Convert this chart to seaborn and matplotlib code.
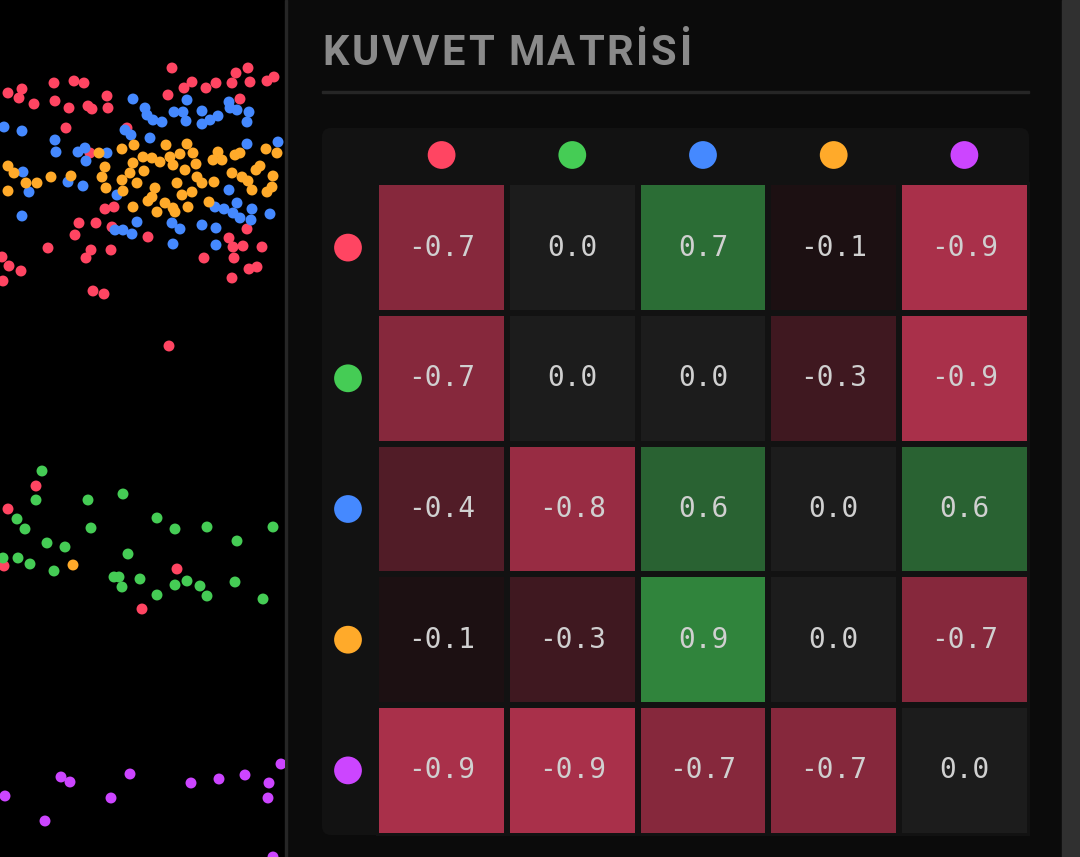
import numpy as np
import pandas as pd
import matplotlib
matplotlib.use("Agg")
import matplotlib.pyplot as plt
from matplotlib.colors import LinearSegmentedColormap
from matplotlib.patches import FancyBboxPatch, Rectangle
import seaborn as sns

sns.set_style("dark")
plt.rcParams['font.family'] = ['Roboto', 'DejaVu Sans']

W, H = 1080, 857

# particle colours (same order as the matrix rows / columns)
groups = ['red', 'green', 'blue', 'orange', 'purple']
group_colors = ['#ff4562', '#45cc55', '#4589ff', '#ffaa2a', '#cc45ff']

# force matrix values (row acts on column)
forces = [
    [-0.7, 0.0, 0.7, -0.1, -0.9],
    [-0.7, 0.0, 0.0, -0.3, -0.9],
    [-0.4, -0.8, 0.6, 0.0, 0.6],
    [-0.1, -0.3, 0.9, 0.0, -0.7],
    [-0.9, -0.9, -0.7, -0.7, 0.0],
]

# particle positions (pixels, y down)
red_x = [172, 248, 236, 274, 267, 192, 184, 206, 216, 232, 250, 240, 168, 8, 22, 19, 34, 54, 74, 84,
         55, 69, 88, 92, 107, 108, 66, 127, 90, 105, 114, 79, 96, 75, 112, 148, 48, 91, 86, 111,
         2, 9, 21, 3, 93, 104, 169, 204, 232, 229, 233, 234, 243, 247, 262, 249, 257,
         36, 8, 4, 177, 142]
red_y = [68, 68, 73, 77, 81, 82, 88, 88, 83, 83, 82, 99, 95, 93, 89, 98, 104, 83, 81, 83,
         101, 108, 106, 109, 96, 108, 128, 128, 153, 209, 207, 223, 223, 235, 227, 237, 248, 250, 258, 250,
         257, 266, 271, 281, 291, 294, 346, 258, 278, 238, 247, 258, 246, 229, 247, 269, 267,
         486, 509, 566, 569, 609]
green_x = [42, 36, 88, 123, 17, 25, 91, 157, 175, 207, 273, 237, 47, 65, 128, 3, 18, 30, 54,
           114, 119, 122, 140, 157, 175, 187, 200, 207, 235, 263]
green_y = [471, 500, 500, 494, 519, 529, 528, 518, 529, 527, 527, 541, 543, 547, 554, 558, 558, 564, 571,
           577, 577, 587, 579, 595, 585, 581, 586, 596, 582, 599]
blue_x = [133, 187, 229, 145, 147, 153, 162, 174, 183, 186, 202, 202, 210, 218, 230, 237, 249, 247,
          4, 22, 55, 56, 78, 85, 86, 107, 125, 131, 150, 247, 278, 23, 29, 68, 83, 117, 22,
          229, 215, 224, 237, 233, 240, 252, 251, 270, 137, 115, 123, 132, 172, 180, 202, 216, 173, 216]
blue_y = [99, 100, 102, 108, 115, 120, 122, 112, 112, 121, 111, 124, 120, 116, 108, 110, 112, 122,
          127, 131, 140, 152, 152, 148, 161, 153, 130, 135, 138, 144, 142, 172, 192, 182, 186, 195, 216,
          190, 207, 209, 203, 213, 218, 209, 220, 214, 222, 230, 230, 234, 223, 229, 225, 228, 244, 245]
orange_x = [8, 14, 26, 37, 8, 51, 71, 99, 122, 134, 105, 102, 106, 122, 123, 130, 137, 133, 133, 143,
            144, 152, 160, 166, 170, 173, 180, 187, 185, 193, 196, 177, 155, 152, 148, 157, 165, 173,
            175, 182, 192, 188, 197, 202, 214, 209, 213, 218, 222, 235, 240, 232, 242, 248, 252, 256,
            260, 267, 272, 273, 266, 277, 73]
orange_y = [166, 173, 183, 183, 191, 177, 176, 153, 149, 145, 167, 177, 188, 180, 191, 173, 183, 207, 163, 157,
            171, 158, 162, 145, 157, 165, 154, 144, 170, 153, 164, 183, 188, 197, 201, 212, 203, 208,
            212, 195, 192, 207, 177, 183, 182, 202, 160, 152, 160, 155, 153, 173, 177, 181, 190, 170,
            166, 192, 187, 176, 149, 153, 565]
purple_x = [281, 61, 70, 130, 191, 219, 245, 269, 268, 5, 111, 45, 273]
purple_y = [764, 777, 782, 774, 783, 779, 775, 783, 798, 796, 798, 821, 857]

fig = plt.figure(figsize=(W / 100, H / 100), dpi=100)
fig.patch.set_facecolor('#0b0b0b')


def px(x0, y0, w, h):
    # pixel box (top-left origin) -> figure fraction rect
    return [x0 / W, 1 - (y0 + h) / H, w / W, h / H]


# background pieces: black sim panel, divider, right scrollbar strip
fig.add_artist(Rectangle((0, 0), 286 / W, 1, transform=fig.transFigure, color='#000000', zorder=0))
fig.add_artist(Rectangle((285 / W, 0), 2 / W, 1, transform=fig.transFigure, color='#262626', zorder=0))
fig.add_artist(Rectangle((1062 / W, 0), 18 / W, 1, transform=fig.transFigure, color='#303030', zorder=0))

# ---- particles ----
pts = pd.DataFrame({
    'x': red_x + green_x + blue_x + orange_x + purple_x,
    'y': red_y + green_y + blue_y + orange_y + purple_y,
    'group': (['red'] * len(red_x) + ['green'] * len(green_x) + ['blue'] * len(blue_x)
              + ['orange'] * len(orange_x) + ['purple'] * len(purple_x)),
})
ax_sim = fig.add_axes(px(0, 0, 285, H))
ax_sim.set_facecolor('#000000')
sns.scatterplot(data=pts, x='x', y='y', hue='group', palette=dict(zip(groups, group_colors)),
                s=62, linewidth=0, legend=False, ax=ax_sim)
ax_sim.set_xlim(0, 285)
ax_sim.set_ylim(H, 0)
ax_sim.set_axis_off()

# ---- title with letter spacing ----
renderer = fig.canvas.get_renderer()
tx = 322
for ch in 'KUVVET MATRİSİ':
    t = fig.text(tx / W, 1 - 65 / H, ch, fontsize=30, fontweight='bold', color='#8a8a8a',
                 va='baseline', ha='left', family=['Roboto', 'DejaVu Sans'])
    w = t.get_window_extent(renderer=renderer).width if ch != ' ' else 9
    tx += w + 2.8

fig.add_artist(Rectangle((322 / W, 1 - 93 / H), 707 / W, 2 / H, transform=fig.transFigure,
                         color='#262626', zorder=1))

# ---- matrix card ----
card = FancyBboxPatch((322, H - 835), 707, 707, boxstyle='round,pad=0,rounding_size=9',
                      transform=None, facecolor='#121212', edgecolor='none', zorder=1)
fig.add_artist(card)

# negatives fade to near-black, exact zero is flat grey, positives fade from grey to green
cmap = LinearSegmentedColormap.from_list(
    'force',
    [(0.0, '#bb3451'), (0.4995, '#0a0c0b'), (0.5, '#1c1c1c'), (1.0, '#329040')],
    N=2001)
gap = 5.5
pitch = 130.7
ax_hm = fig.add_axes(px(379 - gap / 2, 185 - gap / 2, 5 * pitch, 5 * pitch))
ax_hm.set_zorder(3)
sns.heatmap(np.array(forces), ax=ax_hm, cmap=cmap, vmin=-1, vmax=1, cbar=False,
            annot=True, fmt='.1f', linewidths=gap * 0.72, linecolor='#121212',
            xticklabels=False, yticklabels=False,
            annot_kws={'color': '#d0d0d0', 'fontsize': 20, 'family': 'DejaVu Sans Mono'})
ax_hm.patch.set_alpha(0)

# colour keys above columns and left of rows
idx = np.arange(len(groups)) + 0.5
ax_hm.scatter(idx, [-(182.25 - 155) / pitch] * len(groups), s=400, c=group_colors,
              linewidths=0, clip_on=False, zorder=5)
ax_hm.scatter([-(376.25 - 348) / pitch] * len(groups), idx, s=400, c=group_colors,
              linewidths=0, clip_on=False, zorder=5)

fig.savefig('out.png', dpi=100, facecolor=fig.get_facecolor())
